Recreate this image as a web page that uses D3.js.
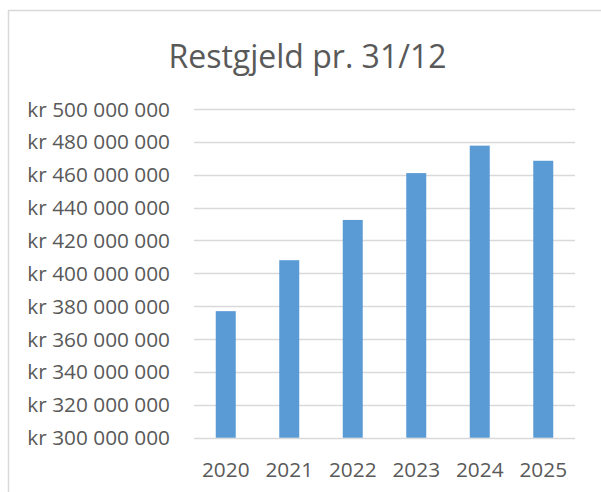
<!DOCTYPE html>
<html>
<head>
<meta charset="utf-8">
<script src="https://cdn.jsdelivr.net/npm/d3@7"></script>
<style>
  html, body { margin: 0; padding: 0; background: #fff; }
  text { font-family: "Open Sans", sans-serif; fill: #595959; }
</style>
</head>
<body>
<div id="container"></div>
<script>
const title = "Restgjeld pr. 31/12"
const years = ["2020", "2021", "2022", "2023", "2024", "2025"]
const restgjeld = [377000000, 408000000, 432500000, 461000000, 477700000, 468500000]
const yTicks = [300e6, 320e6, 340e6, 360e6, 380e6, 400e6, 420e6, 440e6, 460e6, 480e6, 500e6]

const width = 601
const height = 492
const margin = { top: 109, right: 26, bottom: 54, left: 194 }

const svg = d3.select("#container").append("svg")
    .attr("width", width)
    .attr("height", height)

// chart frame (only left and top edges visible)
svg.append("path")
    .attr("d", `M8.5,${height} V10.5 H${width}`)
    .attr("fill", "none")
    .attr("stroke", "#d9d9d9")
    .attr("stroke-width", 1.5)

const x = d3.scaleBand()
    .domain(years)
    .range([margin.left, width - margin.right])
    .paddingInner(0.685)
    .paddingOuter(0.3425)

const y = d3.scaleLinear()
    .domain([300e6, 500e6])
    .range([height - margin.bottom - 0.3, margin.top])

const fmt = v => "kr " + d3.format(",")(v).replace(/,/g, " ")

// gridlines
svg.append("g")
    .selectAll("line")
    .data(yTicks)
    .enter().append("line")
    .attr("x1", margin.left)
    .attr("x2", width - margin.right)
    .attr("y1", d => Math.round(y(d)) + 0.5)
    .attr("y2", d => Math.round(y(d)) + 0.5)
    .attr("stroke", "#d9d9d9")
    .attr("stroke-width", 1.3)

// y labels
svg.append("g")
    .selectAll("text")
    .data(yTicks)
    .enter().append("text")
    .attr("x", 170)
    .attr("y", d => y(d) + 7.5)
    .attr("text-anchor", "end")
    .style("font-size", "20.8px")
    .text(d => fmt(d))

// bars
svg.append("g")
    .selectAll("rect")
    .data(restgjeld)
    .enter().append("rect")
    .attr("x", (d, i) => x(years[i]))
    .attr("y", d => y(d))
    .attr("width", x.bandwidth())
    .attr("height", d => y(300e6) - y(d))
    .attr("fill", "#5b9bd5")

// x labels
svg.append("g")
    .selectAll("text")
    .data(years)
    .enter().append("text")
    .attr("x", d => x(d) + x.bandwidth() / 2)
    .attr("y", 476.7)
    .attr("text-anchor", "middle")
    .style("font-size", "20.8px")
    .text(d => d)

svg.append("text")
    .attr("x", 307.5)
    .attr("y", 68)
    .attr("text-anchor", "middle")
    .style("font-size", "32px")
    .text(title)
</script>
</body>
</html>
